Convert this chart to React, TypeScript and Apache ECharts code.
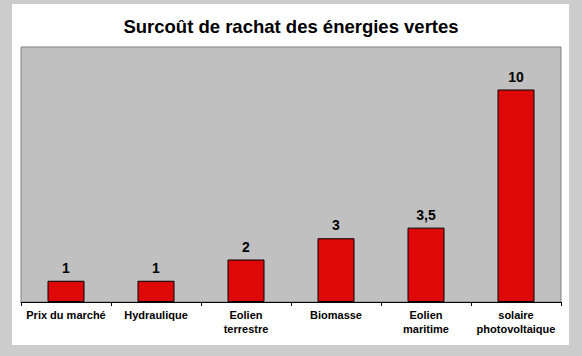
import React, { useEffect, useRef } from "react";
import * as echarts from "echarts";

const categories = [
  "Prix du marché",
  "Hydraulique",
  "Eolien\nterrestre",
  "Biomasse",
  "Eolien\nmaritime",
  "solaire\nphotovoltaique",
];
const values = [1, 1, 2, 3, 3.5, 10];
const titleText = "Surcoût de rachat des énergies vertes";

export default function App() {
  const ref = useRef<HTMLDivElement>(null);
  useEffect(() => {
    const chart = echarts.init(ref.current!, null, { renderer: "svg" });
    const font = "'Liberation Sans', Arial, sans-serif";
    chart.setOption({
      animation: false,
      backgroundColor: "#cccccc",
      graphic: [
        {
          type: "rect",
          z: -10,
          shape: { x: 12, y: 4, width: 557, height: 341 },
          style: { fill: "#ffffff" },
          silent: true,
        },
      ],
      title: {
        text: titleText,
        left: "center",
        top: 17,
        padding: 0,
        textStyle: {
          fontFamily: font,
          fontWeight: "bold",
          fontSize: 18.5,
          color: "#000",
        },
      },
      grid: {
        left: 21,
        top: 47,
        width: 540,
        height: 255,
        show: true,
        backgroundColor: "#c0c0c0",
        borderColor: "#808080",
        borderWidth: 1,
      },
      xAxis: {
        type: "category",
        data: categories,
        axisLine: { show: true, lineStyle: { color: "#000", width: 1 } },
        axisTick: { show: true, length: 4, lineStyle: { color: "#000" } },
        axisLabel: {
          fontFamily: font,
          fontWeight: "bold",
          fontSize: 11,
          color: "#000",
          lineHeight: 14,
          margin: 6,
          interval: 0,
        },
      },
      yAxis: {
        type: "value",
        min: 0,
        max: 12,
        show: false,
        splitLine: { show: false },
      },
      series: [
        {
          type: "bar",
          data: values,
          barWidth: 37,
          itemStyle: {
            color: "#df0808",
            borderColor: "#000",
            borderWidth: 1,
          },
          label: {
            show: true,
            position: "top",
            distance: 6,
            fontFamily: font,
            fontWeight: "bold",
            fontSize: 14,
            color: "#000",
            formatter: (p: any) => String(p.value).replace(".", ","),
          },
        },
      ],
    });
    return () => chart.dispose();
  }, []);
  return (
    <div
      ref={ref}
      style={{ position: "fixed", left: 0, top: 0, width: 582, height: 356 }}
    />
  );
}
